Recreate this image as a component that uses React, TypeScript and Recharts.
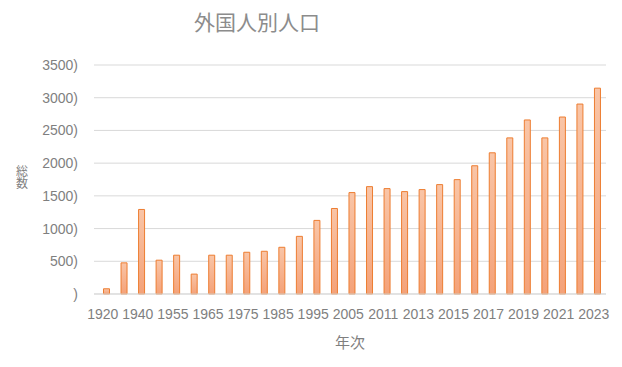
import React from "react";
import { Bar, BarChart, CartesianGrid, XAxis, YAxis } from "recharts";

const years = [
  "1920", "1930", "1940", "1950", "1955", "1960", "1965", "1970", "1975", "1980",
  "1985", "1990", "1995", "2000", "2005", "2010", "2011", "2012", "2013", "2014",
  "2015", "2016", "2017", "2018", "2019", "2020", "2021", "2022", "2023",
];

const totals = [
  80, 476, 1292, 517, 593, 304, 593, 593, 638, 653,
  714, 881, 1125, 1307, 1550, 1641, 1611, 1565, 1596, 1672,
  1748, 1960, 2158, 2386, 2660, 2386, 2705, 2903, 3146,
];

const yTicks = [0, 500, 1000, 1500, 2000, 2500, 3000, 3500];

const title = "外国人別人口";
const xTitle = "年次";
const yTitle = "総数";

const font = "'Liberation Sans', Arial, 'Noto Sans CJK JP', sans-serif";
const cjkFont = "'Noto Sans CJK JP', sans-serif";

const App: React.FC = () => {
  const data = years.map((year, i) => ({ year, total: totals[i] }));

  return (
    <div style={{ position: "absolute", left: 0, top: 0, width: 622, height: 367, background: "#fff" }}>
      <BarChart
        width={622}
        height={367}
        data={data}
        margin={{ top: 65, right: 16, bottom: 43, left: 34 }}
        style={{ fontFamily: font }}
      >
        <defs>
          <linearGradient id="barFill" x1="0" y1="0" x2="0" y2="1">
            <stop offset="0%" stopColor="#F9C5A7" />
            <stop offset="100%" stopColor="#F4A279" />
          </linearGradient>
        </defs>
        <CartesianGrid vertical={false} stroke="#d9d9d9" />
        <XAxis
          dataKey="year"
          interval={1}
          height={30}
          padding={{ left: 3.5, right: 0 }}
          axisLine={{ stroke: "#d9d9d9" }}
          tickLine={false}
          tickSize={0}
          tickMargin={15}
          tick={{ fontSize: 14, fill: "#7f7f7f", dx: -3.5 }}
        />
        <YAxis
          width={60}
          domain={[0, 3500]}
          ticks={yTicks}
          axisLine={false}
          tickLine={false}
          tickSize={0}
          tickMargin={16}
          tick={{ fontSize: 14, fill: "#7f7f7f" }}
          tickFormatter={(v: number) => (v === 0 ? ")" : `${v})`)}
        />
        <Bar
          dataKey="total"
          barSize={6}
          fill="url(#barFill)"
          stroke="#ED7D31"
          strokeWidth={1}
          isAnimationActive={false}
        />
        <text
          x={257}
          y={21}
          textAnchor="middle"
          dominantBaseline="central"
          fontSize={21}
          fill="#8c8c8c"
          fontFamily={cjkFont}
        >
          {title}
        </text>
        <text
          x={350}
          y={341}
          textAnchor="middle"
          dominantBaseline="central"
          fontSize={15}
          fill="#7f7f7f"
          fontFamily={cjkFont}
        >
          {xTitle}
        </text>
        <text
          x={22}
          y={177}
          textAnchor="middle"
          fontSize={12}
          fill="#7f7f7f"
          fontFamily={cjkFont}
          style={{ writingMode: "vertical-rl" }}
        >
          {yTitle}
        </text>
      </BarChart>
    </div>
  );
};

export default App;
